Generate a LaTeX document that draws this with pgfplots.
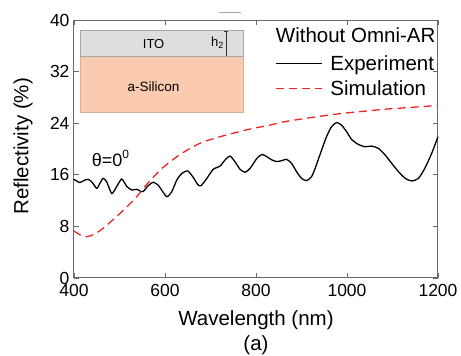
\documentclass[border=0pt]{standalone}
\usepackage{fontspec}
\setmainfont{Liberation Sans}
\usepackage{pgfplots}
\pgfplotsset{compat=1.18}

\definecolor{itogray}{RGB}{222,222,224}
\definecolor{siorange}{RGB}{250,203,174}
\definecolor{simred}{RGB}{232,38,38}
\definecolor{axgray}{RGB}{105,105,105}

\begin{document}
\begin{tikzpicture}[x=1pt,y=1pt]
\begin{axis}[
  scale only axis,
  width=364pt, height=258pt,
  xmin=400, xmax=1200, ymin=0, ymax=40,
  xtick={400,600,...,1200}, ytick={0,8,...,40},
  axis line style={axgray, line width=1pt},
  every tick/.style={axgray, line width=0.8pt},
  major tick length=5pt,
  tick align=inside,
  /pgf/number format/assume math mode=true,
  /pgf/number format/1000 sep={},
  tick label style={font=\fontsize{17.5}{18}\selectfont},
  xticklabel style={yshift=-3pt},
  yticklabel style={xshift=-1pt},
  xlabel={Wavelength (nm)},
  ylabel={Reflectivity (\%)},
  label style={font=\fontsize{20.5}{21}\selectfont},
  xlabel style={at={(axis description cs:0.5,-0.163)}, anchor=center},
  ylabel style={at={(axis description cs:-0.140,0.51)}, anchor=center},
  clip=false,
  legend style={draw=none, fill=none, at={(rel axis cs:0.552,0.872)}, anchor=north west,
    font=\fontsize{20.5}{21}\selectfont, row sep=5pt, inner sep=0pt,
    /tikz/every odd column/.style={column sep=6pt}},
  legend cell align=left,
  legend image code/.code={\draw[#1] (0pt,0pt) -- (46pt,0pt);},
]
% layer stack inset: ITO on amorphous silicon
\fill[siorange, draw=siorange!85!black, line width=0.4pt] (axis cs:413,25.75) rectangle (axis cs:771,34.42);
\fill[itogray, draw=gray!70, line width=0.4pt] (axis cs:413,34.42) rectangle (axis cs:771,38.45);
\node[font=\fontsize{13}{14}\selectfont] at (axis cs:575,36.35) {ITO};
\node[font=\fontsize{13.5}{14}\selectfont] at (axis cs:575,29.6) {a-Silicon};
\node[font=\fontsize{13}{14}\selectfont] at (axis cs:715,36.5) {h\raisebox{-0.35ex}{\fontsize{9}{9}\selectfont 2}};
\draw[black!80, line width=0.5pt] (axis cs:734,38.3) -- (axis cs:734,34.45);
\draw[black!80, line width=0.5pt] (axis cs:729,38.3) -- (axis cs:739,38.3);
\draw[gray!70, line width=0.8pt] (axis cs:719,41.2) -- (axis cs:767,41.2);

\node[font=\fontsize{20.5}{21}\selectfont, anchor=west] at (axis cs:836,37.7) {Without Omni-AR};
\node[font=\fontsize{18}{20}\selectfont] at (axis cs:480,18.6) {θ=0\raisebox{0.85ex}{\fontsize{12}{12}\selectfont 0}};

% measured reflectivity
\addplot[black, line width=1.3pt, smooth, tension=0.4] coordinates {
(400,15.3) (413,14.8) (424,15.2) (431,15.3) (439,14.9) (450,13.9) (457,14.7)
(464,15.45) (472,14.9) (483,13.1) (494,14.2) (505,15.35) (516,14.2) (527,13.65)
(538,13.75) (545,13.5) (552,13.4) (563,14.3) (574,14.85) (585,14.4) (593,13.6)
(604,12.6) (615,13.4) (626,15.2) (637,16.2) (650,16.6) (662,15.6) (672,14.5)
(679,14.3) (692,15.45) (706,16.85) (721,17.35) (732,18.3) (743,18.9) (754,18.0)
(765,16.85) (776,16.4) (787,17.0) (802,18.55) (813,19.15) (824,18.8) (835,18.3)
(846,18.05) (857,18.2) (867,18.4) (878,17.8) (889,16.5) (900,15.45) (911,15.1)
(922,15.7) (930,17.0) (941,19.2) (955,21.9) (966,23.45) (977,24.1) (988,23.7)
(999,22.7) (1010,21.5) (1025,20.7) (1040,20.35) (1054,20.45) (1069,20.1)
(1084,19.05) (1098,17.8) (1113,16.5) (1128,15.45) (1142,15.05) (1157,15.45)
(1171,17.0) (1186,19.3) (1200,21.9)
};
\addlegendentry{Experiment}

% simulated reflectivity
\addplot[simred, line width=1.3pt, dash pattern=on 8pt off 5pt, smooth] coordinates {
(400,7.3) (413,6.7) (428,6.4) (445,6.8) (464,7.7) (482,8.8) (501,10.0) (520,11.3)
(538,12.6) (556,14.2) (574,15.6) (592,16.9) (611,18.0) (630,19.0) (648,19.8)
(666,20.5) (684,21.1) (721,21.9) (758,22.6) (794,23.2) (830,23.7) (860,24.2)
(900,24.65) (933,25.0) (970,25.35) (1007,25.65) (1045,25.9) (1080,26.15)
(1120,26.35) (1160,26.55) (1200,26.75)
};
\addlegendentry{Simulation}

\node[font=\fontsize{20.5}{21}\selectfont] at (axis cs:800,-10.4) {(a)};
\end{axis}
\pgfresetboundingbox
\path[use as bounding box] (-74,-78) rectangle (387,278);
\end{tikzpicture}
\end{document}
